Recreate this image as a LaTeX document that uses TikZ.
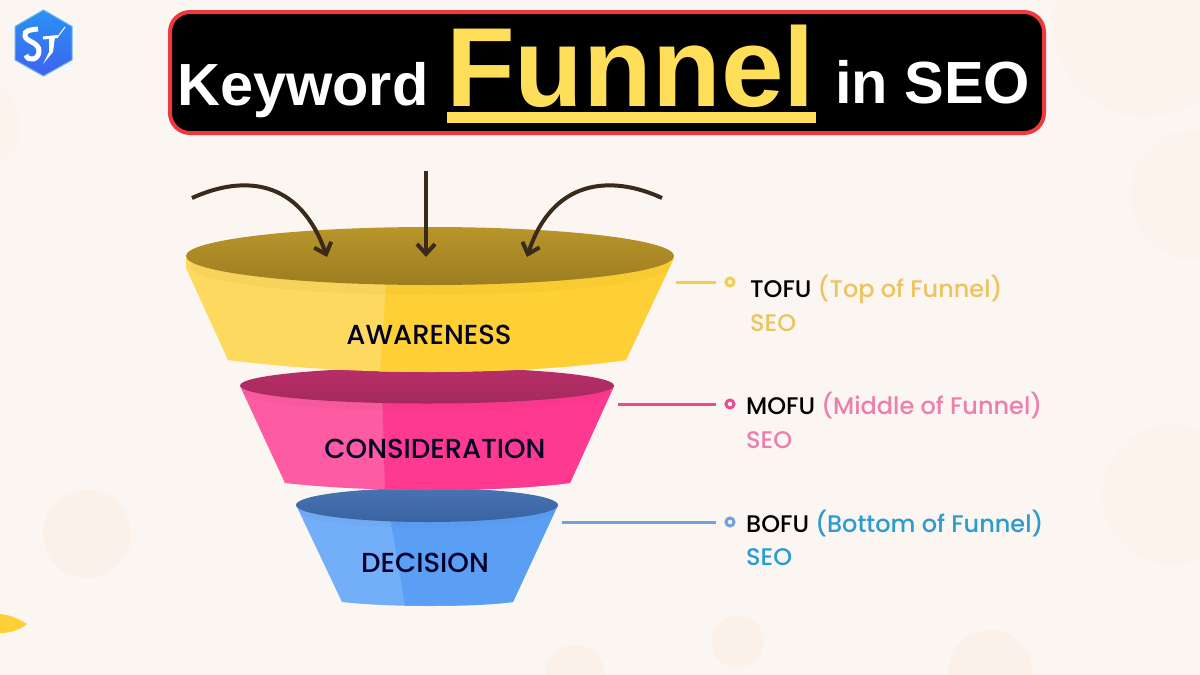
\documentclass[tikz,border=0pt]{standalone}
\usepackage{fontspec}
\setmainfont{Poppins}[UprightFont={Poppins Medium}]
\newfontfamily\titlefont{Liberation Sans}
\usetikzlibrary{arrows.meta}
\definecolor{paper}{HTML}{FBF6F1}
\definecolor{blob}{HTML}{FBF1E8}
\definecolor{blobfaint}{HTML}{FBF3EC}
\definecolor{inkarrow}{HTML}{3A2A1C}
\definecolor{boxred}{HTML}{EE3A3F}
\definecolor{titleyellow}{HTML}{FFDE59}
\definecolor{yellowlight}{HTML}{FDD95F}
\definecolor{yellowmain}{HTML}{FFD035}
\definecolor{yellowrim}{HTML}{B8962B}
\definecolor{yellowrimd}{HTML}{9C7D21}
\definecolor{yellowline}{HTML}{F2CF4F}
\definecolor{yellowtext}{HTML}{EDC35F}
\definecolor{pinklight}{HTML}{FD5CA2}
\definecolor{pinkmain}{HTML}{FD3A90}
\definecolor{pinkrim}{HTML}{B82E68}
\definecolor{pinkrimd}{HTML}{A42A5C}
\definecolor{pinkline}{HTML}{EA4C94}
\definecolor{pinktext}{HTML}{EC7FAE}
\definecolor{bluelight}{HTML}{72AFF8}
\definecolor{bluemain}{HTML}{5B9FF5}
\definecolor{bluerim}{HTML}{4774B4}
\definecolor{bluerimd}{HTML}{3A629F}
\definecolor{blueline}{HTML}{6FA3E0}
\definecolor{bluetext}{HTML}{2B9BD0}
\definecolor{logotop}{HTML}{2A92F2}
\definecolor{logobot}{HTML}{3D63F0}
\tikzset{
  funnellabel/.style={anchor=base,text=black!85!blue,font=\fontsize{27.5}{30}\selectfont},
  tiertext/.style={anchor=base west,inner sep=0pt,font=\fontsize{24}{28}\selectfont},
  tierdot/.style={circle,draw=#1,line width=3pt,fill=paper,minimum size=8pt,inner sep=0pt},
  tierline/.style={draw=#1,line width=3pt,shorten >=9pt},
  droparrow/.style={draw=inkarrow,line width=4pt,-{Straight Barb[length=10pt,width=18pt,line width=4pt]}},
  titletext/.style={anchor=base west,inner sep=0pt,font=\titlefont\bfseries\fontsize{#1}{#1}\selectfont},
  rimband/.style={fill=black,opacity=0.025}
}
\begin{document}
\begin{tikzpicture}[x=1pt,y=-1pt]
\useasboundingbox (0,0) rectangle (1200,675);
\fill[paper] (0,0) rectangle (1200,675);
% soft background blobs
\begin{scope}
\clip (0,0) rectangle (1200,675);
\fill[blob] (87,534) circle (44);
\fill[blob] (738,642) circle (26);
\fill[blob] (990,672) circle (42);
\fill[blob] (575,675) circle (30);
\fill[blobfaint] (1172,495) circle (70);
\fill[blobfaint] (1195,195) circle (65);
\fill[blobfaint] (1145,25) circle (92);
\fill[blobfaint] (-32,125) circle (52);
\fill[yellowmain] (0,614) .. controls (12,615) and (20,620) .. (27,624) .. controls (20,630) and (10,633) .. (0,633) -- cycle;
\end{scope}
% logo
\shade[top color=logotop,bottom color=logobot,draw=logotop!70!white,line width=1pt]
  (43.5,10) -- (72,26.5) -- (72,60) -- (43.5,76) -- (15,60) -- (15,26.5) -- cycle;
\draw[white,line width=5pt] (38,29) .. controls (30,30) and (24,30) .. (25,36) .. controls (26,42) and (39,42) .. (39,51) .. controls (39,60) and (28,62) .. (26,55);
\draw[white,line width=3pt] (43,38) -- (58,36.5);
\draw[white,line width=1pt] (58,36.5) -- (65,27);
\fill[white] (49,37) -- (55,37) -- (53,52) -- (43,64) -- (49,52) -- cycle;
% title box
\draw[boxred,fill=black,line width=4pt,rounded corners=20pt] (170,12) rectangle (1044,133);
\node[titletext=59.5,text=white] (keyword) at (177,105) {Keyword};
\node[titletext=112.5,text=titleyellow] (funnel) at (446,106) {Funnel};
\node[titletext=59.5,text=white] (inseo) at (835,103) {in SEO};
\draw[titleyellow,line width=11pt] (447,117.5) -- (815.5,117.5);
% decision
\fill[bluelight] (296,505) -- (342,602) .. controls (370,605) and (400,606) .. (430,606) .. controls (465,606) and (490,605) .. (513,602) -- (558,505) -- cycle;
\fill[bluemain] (388,505) -- (405,605.5) .. controls (450,606) and (490,605) .. (513,602) -- (558,505) -- cycle;
\fill[rimband] (427,511) ellipse (128 and 17);
\shade[top color=bluerim,bottom color=bluerimd] (427,505) ellipse (131 and 17);
\node[funnellabel] (decision) at (425,572) {DECISION};
% consideration
\fill[pinklight] (240,386) -- (285,483) .. controls (330,488) and (380,490) .. (428,490) .. controls (480,490) and (530,488) .. (570,483) -- (614,386) -- cycle;
\fill[pinkmain] (382,386) -- (385,489.5) .. controls (480,491) and (530,488) .. (570,483) -- (614,386) -- cycle;
\fill[rimband] (427,393) ellipse (183 and 18);
\shade[top color=pinkrim,bottom color=pinkrimd] (427,385.5) ellipse (187 and 18);
\node[funnellabel] (consideration) at (435,458) {CONSIDERATION};
% awareness
\fill[yellowlight] (186,258) -- (186,268) -- (228,360) .. controls (290,368) and (360,372) .. (430,372) .. controls (500,372) and (570,368) .. (626,360) -- (674,258) -- cycle;
\fill[yellowmain] (388,258) -- (380,371.5) .. controls (500,373) and (570,368) .. (626,360) -- (674,258) -- cycle;
\fill[rimband] (430,266) ellipse (240 and 29);
\shade[top color=yellowrim,bottom color=yellowrimd] (430,256) ellipse (244 and 29);
\node[funnellabel] (awareness) at (429,344) {AWARENESS};
% arrows into the funnel
\coordinate (leftstart) at (192,198);
\coordinate (lefttip) at (327,257);
\coordinate (midstart) at (426,171);
\coordinate (midtip) at (426,257);
\coordinate (rightstart) at (662,198);
\coordinate (righttip) at (527,257);
\draw[droparrow] (leftstart) .. controls (245,174) and (300,180) .. (lefttip);
\draw[droparrow] (midstart) -- (midtip);
\draw[droparrow] (rightstart) .. controls (610,174) and (552,180) .. (righttip);
% tier labels
\node[tierdot=yellowline] (tofudot) at (730,282) {};
\node[tierdot=pinkline] (mofudot) at (730,404) {};
\node[tierdot=blueline] (bofudot) at (730,522) {};
\coordinate (tofuedge) at (676,282);
\coordinate (mofuedge) at (618,404);
\coordinate (bofuedge) at (562,522);
\draw[tierline=yellowline] (tofuedge) -- (tofudot);
\draw[tierline=pinkline] (mofuedge) -- (mofudot);
\draw[tierline=blueline] (bofuedge) -- (bofudot);
\node[tiertext] (tofu) at (750,297) {TOFU \textcolor{yellowtext}{(Top of Funnel)}};
\node[tiertext,text=yellowtext] (tofuseo) at (750,331) {SEO};
\node[tiertext] (mofu) at (746,414) {MOFU \textcolor{pinktext}{(Middle of Funnel)}};
\node[tiertext,text=pinktext] (mofuseo) at (746,448) {SEO};
\node[tiertext] (bofu) at (746,532) {BOFU \textcolor{bluetext}{(Bottom of Funnel)}};
\node[tiertext,text=bluetext] (bofuseo) at (746,565) {SEO};
\end{tikzpicture}
\end{document}
